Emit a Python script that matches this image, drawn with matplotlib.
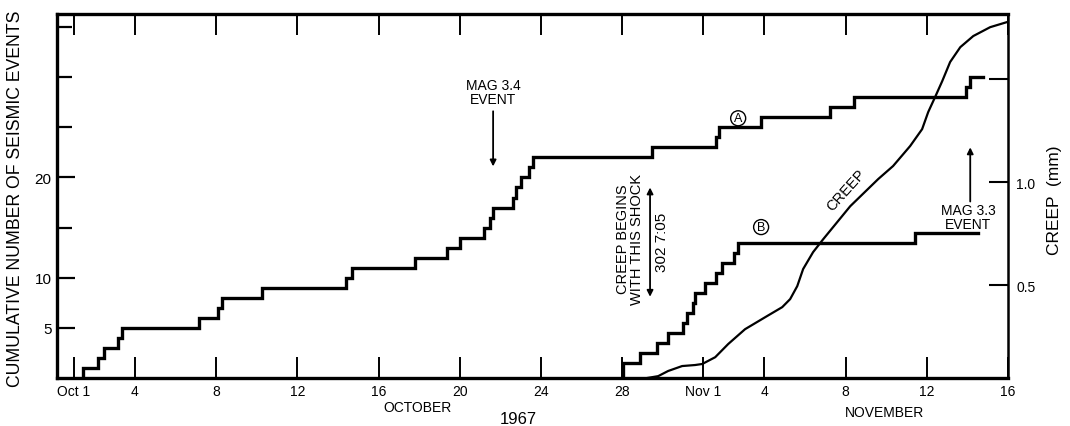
import numpy as np
import matplotlib
matplotlib.use("Agg")
import matplotlib.pyplot as plt
from matplotlib import font_manager

# ---------------- data (x = day counted from Oct 0; Nov d = 31 + d) ----------------
a_step_days = [1.44, 2.18, 2.48, 3.17, 3.36, 7.16, 8.09, 8.29, 10.26, 14.40,
               14.69, 17.80, 19.37, 20.01, 21.20, 21.49, 21.64, 22.63, 22.77, 23.02,
               23.41, 23.61, 29.47, 32.63, 32.77, 34.84, 38.24, 39.42, 44.94, 45.14]
a_counts = [1, 2, 3, 4, 5, 6, 7, 8, 9, 10,
            11, 12, 13, 14, 15, 16, 17, 18, 19, 20,
            21, 22, 23, 24, 25, 26, 27, 28, 29, 30]
a_end_day = 45.78

b_step_days = [28.05, 28.88, 29.72, 30.26, 31.00, 31.20, 31.50, 31.60, 32.10,
               32.60, 32.90, 33.50, 33.70, 42.43]
b_counts = [1.5, 2.5, 3.5, 4.5, 5.5, 6.5, 7.5, 8.5, 9.5, 10.5, 11.5, 12.5, 13.5, 14.5]
b_end_day = 45.5

creep_days = [29.23, 29.77, 30.26, 30.95, 31.59, 31.94, 32.58, 33.22, 34.05, 35.14,
              35.88, 36.27, 36.62, 36.91, 37.40, 37.90, 39.23, 40.61, 41.34, 42.18,
              42.77, 43.07, 43.41, 43.76, 44.15, 44.65, 45.29, 46.12, 46.96]
creep_mm = [0.049, 0.058, 0.083, 0.107, 0.112, 0.117, 0.150, 0.214, 0.286, 0.350,
            0.393, 0.432, 0.495, 0.578, 0.660, 0.723, 0.883, 1.015, 1.078, 1.175,
            1.257, 1.340, 1.413, 1.490, 1.583, 1.655, 1.709, 1.752, 1.777]

x_tick_days = [1, 4, 8, 12, 16, 20, 24, 28, 32, 35, 39, 43, 47]
x_tick_labels = ["Oct 1", "4", "8", "12", "16", "20", "24", "28",
                 "Nov 1", "4", "8", "12", "16"]
y_major_ticks = [5, 10, 20]
y_major_labels = ["5", "10", "20"]
y_minor_ticks = [15, 25, 30, 35]
creep_ticks = [0.5, 1.0, 1.5]
creep_tick_labels = ["0.5", "1.0", ""]

# ---------------- style ----------------
names = {f.name for f in font_manager.fontManager.ttflist}
base = "Liberation Sans" if "Liberation Sans" in names else "DejaVu Sans"
plt.rcParams["font.family"] = [base, "DejaVu Sans"]

W, H = 1070, 427
fig = plt.figure(figsize=(W / 100, H / 100), dpi=100)
L, R, T, B = 57, 1008, 15, 379
ax = fig.add_axes([L / W, 1 - B / H, (R - L) / W, (B - T) / H])
ax.set_xlim(0.16, 47)
ax.set_ylim(0, 36.3)

# step series A and B
ax.step([a_step_days[0]] + a_step_days + [a_end_day],
        [0] + a_counts + [a_counts[-1]], where="post", color="k", lw=2.4,
        solid_joinstyle="miter")
ax.step([b_step_days[0]] + b_step_days + [b_end_day],
        [0] + b_counts + [b_counts[-1]], where="post", color="k", lw=2.4,
        solid_joinstyle="miter")

# axes styling
ax.set_xticks(x_tick_days)
ax.set_xticklabels(x_tick_labels)
ax.set_yticks(y_major_ticks)
ax.set_yticklabels(y_major_labels)
ax.set_yticks(y_minor_ticks, minor=True)
ax.tick_params(axis="x", which="major", direction="in", length=15, width=1.4,
               top=True, bottom=True, labelsize=10, pad=4)
ax.tick_params(axis="y", which="major", direction="in", length=13, width=1.6,
               left=True, right=False, labelsize=11, pad=4)
ax.tick_params(axis="y", which="minor", direction="in", length=11, width=1.6,
               left=True, right=False)
for s in ["left", "bottom", "top"]:
    ax.spines[s].set_linewidth(2.4)
ax.spines["right"].set_visible(False)

# creep axis
ax2 = ax.twinx()
ax2.set_ylim(0.049, 1.816)
ax2.plot(creep_days, creep_mm, color="k", lw=1.6)
ax2.set_yticks(creep_ticks)
ax2.set_yticklabels(creep_tick_labels)
ax2.tick_params(axis="y", direction="in", length=14, width=1.5, labelsize=10, pad=6)
for s in ["left", "bottom", "top"]:
    ax2.spines[s].set_visible(False)
ax2.spines["right"].set_linewidth(1.8)

# annotations
arrow_kw = dict(arrowstyle="-|>", lw=1.3, color="k", mutation_scale=9,
                shrinkA=0, shrinkB=0)
ax.text(21.64, 28.5, "MAG 3.4\nEVENT", ha="center", va="center",
        fontsize=10, linespacing=1.05)
ax.annotate("", xy=(21.64, 21.1), xytext=(21.64, 26.6), arrowprops=arrow_kw)

ax.text(45.04, 16.05, "MAG 3.3\nEVENT", ha="center", va="center",
        fontsize=10, linespacing=1.05)
ax.annotate("", xy=(45.14, 23.0), xytext=(45.14, 17.6), arrowprops=arrow_kw)

circ = dict(boxstyle="circle,pad=0.12", fc="white", ec="k", lw=1.0)
ax.text(33.71, 25.9, "A", ha="center", va="center", fontsize=9, bbox=circ)
ax.text(34.84, 15.05, "B", ha="center", va="center", fontsize=9, bbox=circ)

ax.text(39.05, 18.75, "CREEP", rotation=48, ha="center", va="center", fontsize=10.5)

ax.text(28.39, 13.9, "CREEP BEGINS\nWITH THIS SHOCK", rotation=90, ha="center",
        va="center", multialignment="center", fontsize=10.5, linespacing=1.0)
ax.text(29.97, 13.66, "302 7:05", rotation=90, ha="center", va="center",
        fontsize=11)
ax.annotate("", xy=(29.37, 19.0), xytext=(29.37, 8.1),
            arrowprops=dict(arrowstyle="<|-|>", lw=1.3, color="k",
                            mutation_scale=9, shrinkA=0, shrinkB=0))

# axis titles
fig.text(16 / W, 1 - 199 / H, "CUMULATIVE NUMBER OF SEISMIC EVENTS", rotation=90,
         ha="center", va="center", fontsize=12.7)
fig.text(1055 / W, 1 - 200 / H, "CREEP  (mm)", rotation=90, ha="center",
         va="center", fontsize=12.5)
fig.text(417 / W, 1 - 408 / H, "OCTOBER", ha="center", va="center", fontsize=10)
fig.text(884 / W, 1 - 413 / H, "NOVEMBER", ha="center", va="center", fontsize=10)
fig.text(518 / W, 1 - 420 / H, "1967", ha="center", va="center", fontsize=12)

fig.savefig("out.png", dpi=100)
